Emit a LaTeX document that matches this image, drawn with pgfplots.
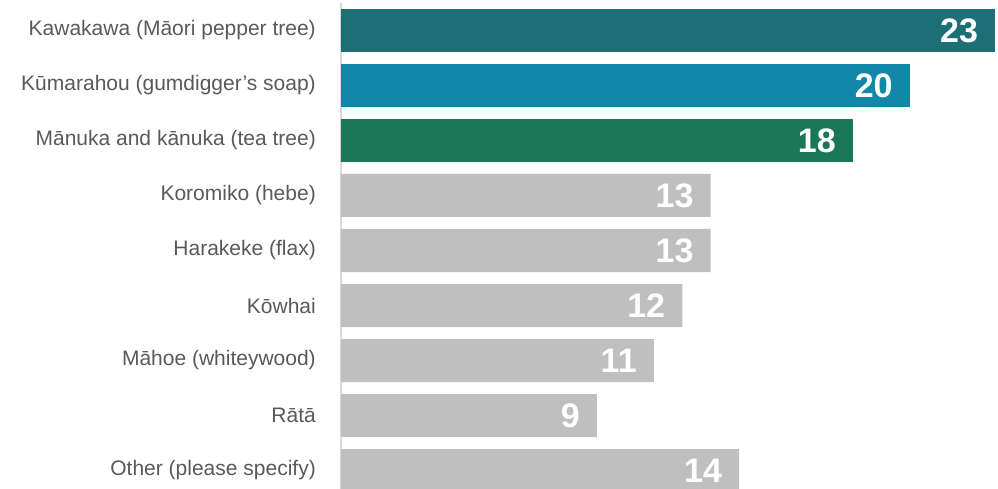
\documentclass[border=0pt]{standalone}
\usepackage{pgfplots}
\pgfplotsset{compat=1.18}
\usepackage{fontspec}
\setmainfont{Liberation Sans}
\definecolor{c1}{HTML}{1B6F75}
\definecolor{c2}{HTML}{1288A8}
\definecolor{c3}{HTML}{1A7858}
\definecolor{cg}{HTML}{BFBFBF}
\definecolor{axgrey}{HTML}{D9D9D9}
\definecolor{labgrey}{HTML}{595959}
\begin{document}
\begin{tikzpicture}
\begin{axis}[
 scale only axis, width=657bp, height=486bp,
 xmin=0, xmax=23.1, ymin=-0.336, ymax=8.5,
 xbar, bar width=43bp, bar shift=0pt,
 axis x line=none, axis y line*=left,
 y axis line style={draw=axgrey, line width=1.5bp},
 ytick={0,...,8},
 yticklabels={Other (please specify), Rātā, Māhoe (whiteywood), Kōwhai, Harakeke (flax), Koromiko (hebe), Mānuka and kānuka (tea tree), Kūmarahou (gumdigger’s soap), Kawakawa (Māori pepper tree)},
 major tick length=0pt, ytick style={draw=none},
 yticklabel style={anchor=east, inner sep=0pt, xshift=-25bp, font=\fontsize{21bp}{25bp}\selectfont, text=labgrey},
 /pgf/number format/assume math mode=true,
 nodes near coords, point meta=x,
 every node near coord/.append style={anchor=east, inner sep=0pt, xshift=-17bp, text=white, font=\fontsize{34bp}{40bp}\selectfont\bfseries},
 clip=true,
]
\addplot[fill=c1, draw=none] coordinates {(23,8)};
\addplot[fill=c2, draw=none] coordinates {(20,7)};
\addplot[fill=c3, draw=none] coordinates {(18,6)};
\addplot[fill=cg, draw=none] coordinates {(13,5) (13,4) (12,3) (11,2) (9,1) (14,0)};
\end{axis}
\pgfresetboundingbox
\path[use as bounding box] ([xshift=-341bp]current axis.south west) rectangle ([yshift=3bp]current axis.north east);
\end{tikzpicture}
\end{document}
